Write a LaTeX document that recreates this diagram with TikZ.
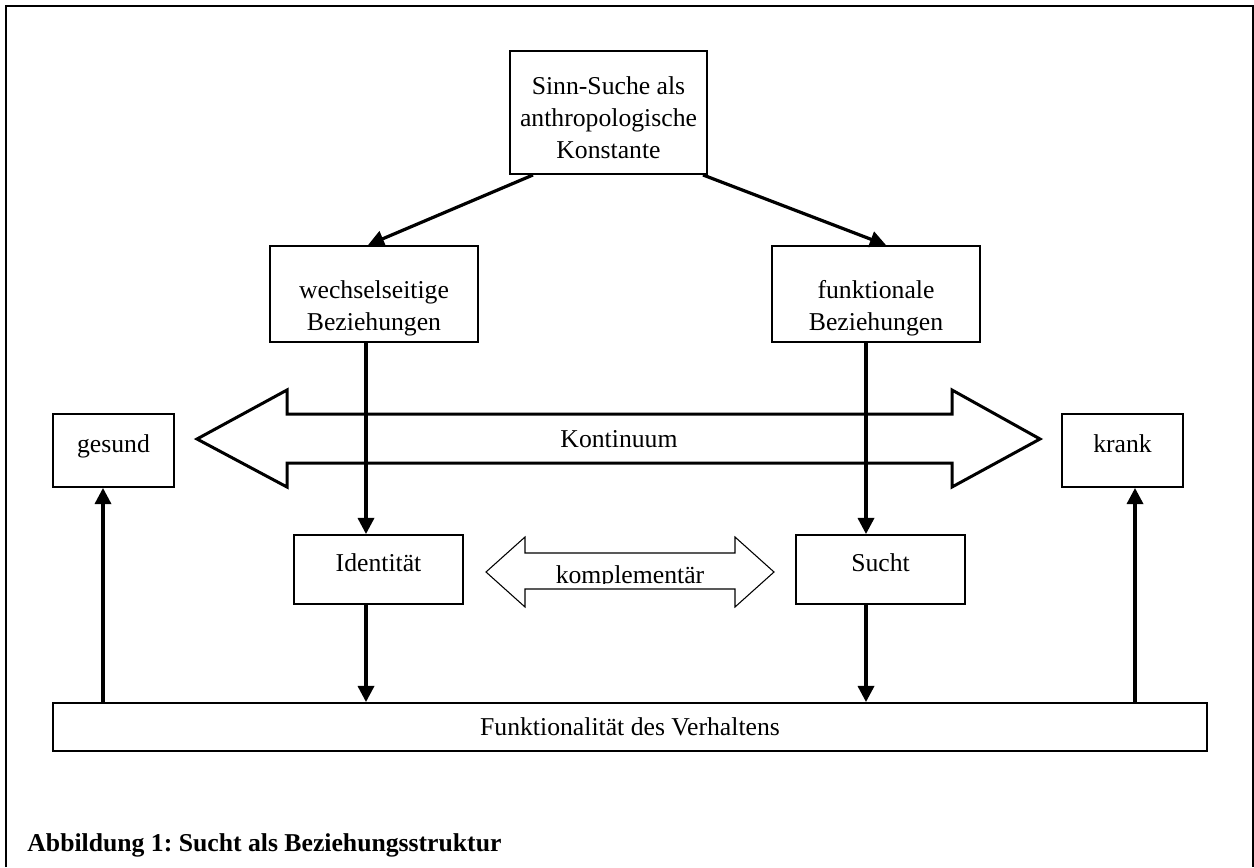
\documentclass[tikz,border=0pt]{standalone}
\usepackage{fontspec}
\setmainfont{Liberation Serif}
\usetikzlibrary{arrows.meta,positioning,calc}
\frenchspacing

\begin{document}
\begin{tikzpicture}[x=0.467pt, y=-0.467pt]

        \def\pxu{0.467pt}

        % Styles of the boxes, texts and arrows
        \tikzset{
            lbl/.style={inner sep=0pt, font=\fontsize{12pt}{15pt}\selectfont},
            box/.style={lbl, draw, line width=0.9pt, align=center},
            onebox/.style={box, text height=8.5pt, text depth=6.5pt},
            boxtext/.style={lbl, align=center, yshift=#1},
            conn/.style={line width=1.5pt, -{Triangle[length=7.5pt, width=7.5pt]}}
        }

        \useasboundingbox (0, 0) rectangle (1254, 867);
        \draw[line width=1pt] (6, 867) -- (6, 6) -- (1253, 6) -- (1253, 867);

        % Columns of the connectors
        \coordinate (lcol) at (366, 0);
        \coordinate (rcol) at (866, 0);
        \coordinate (gcol) at (103, 0);
        \coordinate (kcol) at (1135, 0);
        \coordinate (dl) at (533, 0);
        \coordinate (dr) at (703, 0);
        \coordinate (tl) at (368, 0);
        \coordinate (tr) at (886, 0);

        \begin{scope}
            \node[box, minimum width=197*\pxu, minimum height=123*\pxu,
                label={[boxtext=-5*\pxu]center:{Sinn-Suche als\\anthropologische\\Konstante}}]
            (sinn) at (608.5, 112.5) {};
            \node[box, minimum width=208*\pxu, minimum height=96*\pxu,
                label={[boxtext=-14*\pxu]center:{wechselseitige\\Beziehungen}}]
            (wechsel) at (374, 294) {};
            \node[box, minimum width=208*\pxu, minimum height=96*\pxu,
                label={[boxtext=-14*\pxu]center:{funktionale\\Beziehungen}}]
            (funkt) at (876, 294) {};
            \node[onebox, minimum width=121*\pxu, minimum height=73*\pxu]
            (gesund) at (113.5, 450.5) {gesund};
            \node[onebox, minimum width=121*\pxu, minimum height=73*\pxu]
            (krank) at (1122.5, 450.5) {krank};
            \node[onebox, minimum width=169*\pxu, minimum height=69*\pxu]
            (ident) at (378.5, 569.5) {Identität};
            \node[onebox, minimum width=169*\pxu, minimum height=69*\pxu]
            (sucht) at (880.5, 569.5) {Sucht};
            \node[box, minimum width=1154*\pxu, minimum height=48*\pxu]
            (bar) at (630, 727) {Funktionalität des Verhaltens};
        \end{scope}

        % Continuum arrow
        \draw[line width=1.4pt] (197, 439) -- (287, 390) -- (287, 414)
            -- (952, 414) -- (952, 390) -- (1040, 439) -- (952, 487)
            -- (952, 463) -- (287, 463) -- (287, 487) -- cycle;
        \node[lbl] (kont) at (619, 439) {Kontinuum};

        % Complement arrow
        \draw[line width=0.5pt] (486, 572) -- (525, 537) -- (525, 553)
            -- (735, 553) -- (735, 537) -- (774, 572) -- (735, 607)
            -- (735, 589) -- (525, 589) -- (525, 607) -- cycle;
        \begin{scope}
            \clip (525, 553) rectangle (735, 583);
            \node[lbl, anchor=base] (kompl) at (630, 583) {komplementär};
        \end{scope}

        \begin{scope}
            \draw[conn] (sinn.south -| dl) -- (wechsel.north -| tl);
            \draw[conn] (sinn.south -| dr) -- (funkt.north -| tr);
            \draw[conn] (wechsel.south -| lcol) -- (ident.north -| lcol);
            \draw[conn] (funkt.south -| rcol) -- (sucht.north -| rcol);
            \draw[conn] (ident.south -| lcol) -- (bar.north -| lcol);
            \draw[conn] (sucht.south -| rcol) -- (bar.north -| rcol);
            \draw[conn] (bar.north -| gcol) -- (gesund.south -| gcol);
            \draw[conn] (bar.north -| kcol) -- (krank.south -| kcol);
        \end{scope}

        \node[lbl, font=\fontsize{12pt}{15pt}\selectfont\bfseries,
            anchor=base west] (caption) at (27, 851)
            {Abbildung 1: Sucht als Beziehungsstruktur};

\end{tikzpicture}
\end{document}
